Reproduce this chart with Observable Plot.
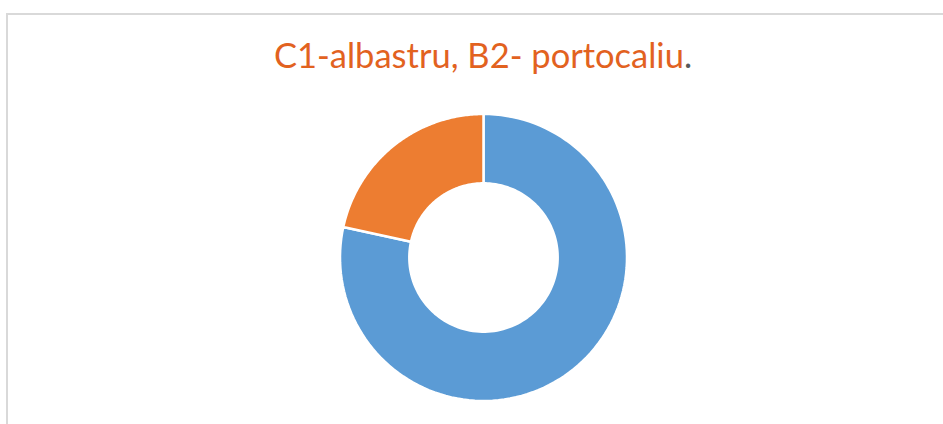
<!DOCTYPE html>
<html><head><meta charset="utf-8">
<script src="https://cdn.jsdelivr.net/npm/d3@7"></script>
<script src="https://cdn.jsdelivr.net/npm/@observablehq/plot@0.6"></script>
<style>
html,body{margin:0;padding:0;background:#fff;}
#wrap{position:relative;width:943px;height:424px;overflow:hidden;background:#fff;}
#frame{position:absolute;left:6px;top:13px;width:1000px;height:500px;border:2px solid #d9d9d9;box-sizing:border-box;}
#title{position:absolute;left:0;width:966px;top:35px;text-align:center;font-family:Lato,"Open Sans",sans-serif;font-size:34.5px;color:#E2621F;white-space:nowrap;line-height:40px;}
#title .dot{color:#595959;}
#chart{position:absolute;left:338.5px;top:112.5px;}
</style></head>
<body><div id="wrap"><div id="frame"></div>
<div id="title">C1-albastru, B2- portocaliu<span class="dot">.</span></div>
<div id="chart"></div></div>
<script>
const categories = ["C1", "B2"];
const values = [78.4, 21.6];
const colors = ["#5B9BD5", "#ED7D31"];

const innerRatio = 0.517;
const pie = d3.pie().sort(null).value(d => d.value);
const arcs = pie(categories.map((c, i) => ({category: c, value: values[i]})));
// polygon outline of each ring segment, angles from d3.pie (0 = 12 o'clock, clockwise)
const pts = [];
arcs.forEach(a => {
  const n = 120;
  const ring = [];
  for (let k = 0; k <= n; k++) ring.push(a.startAngle + (a.endAngle - a.startAngle) * k / n);
  ring.forEach(t => pts.push({category: a.data.category, x: Math.sin(t), y: Math.cos(t)}));
  ring.slice().reverse().forEach(t => pts.push({category: a.data.category, x: innerRatio * Math.sin(t), y: innerRatio * Math.cos(t)}));
  pts.push({category: a.data.category, x: Math.sin(a.startAngle), y: Math.cos(a.startAngle)});
});

const chart = Plot.plot({
  width: 288, height: 288,
  margin: 0.5,
  x: {domain: [-1, 1], axis: null},
  y: {domain: [-1, 1], axis: null},
  color: {domain: categories, range: colors},
  marks: [
    Plot.line(pts, {x: "x", y: "y", z: "category", fill: "category", stroke: "#fff", strokeWidth: 2.5, strokeLinejoin: "miter", curve: "linear"})
  ]
});
document.getElementById("chart").appendChild(chart);
</script></body></html>
